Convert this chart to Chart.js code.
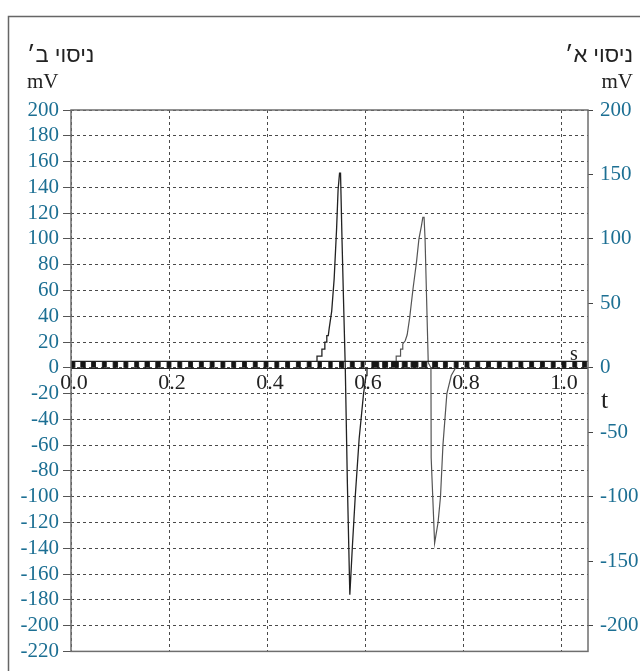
<!DOCTYPE html>
<html><head><meta charset="utf-8">
<script src="https://cdn.jsdelivr.net/npm/chart.js@4.4.1/dist/chart.umd.min.js"></script>
<style>html,body{margin:0;padding:0;background:#fff;}canvas{display:block;}</style>
</head><body>
<canvas id="c" width="640" height="671"></canvas>
<script>
// ---- data ----
const xTicks = [0.0, 0.2, 0.4, 0.6, 0.8, 1.0];
const xTickLabels = ['0.0', '0.2', '0.4', '0.6', '0.8', '1.0'];
const leftTicks = [-220, -200, -180, -160, -140, -120, -100, -80, -60, -40, -20, 0, 20, 40, 60, 80, 100, 120, 140, 160, 180, 200];
const rightTicks = [-200, -150, -100, -50, 0, 50, 100, 150, 200];
const titleLeft = 'ניסוי ב׳';
const titleRight = 'ניסוי א׳';
const unitY = 'mV';
const unitX = 's';
const axisX = 't';

// first pulse (seconds, mV)
const pulseA_t = [0.502, 0.502, 0.512, 0.512, 0.518, 0.518, 0.522, 0.522, 0.525, 0.527, 0.532, 0.537, 0.542, 0.545, 0.548, 0.550, 0.553, 0.556, 0.5597, 0.564, 0.569, 0.574, 0.580, 0.588, 0.597, 0.602, 0.604];
const pulseA_v = [5, 9, 9, 14.5, 14.5, 20, 20, 25, 25, 31, 44, 69, 108, 138, 151, 151, 100, 54, 0, -90, -176, -140, -100, -55, -20, -6, 0];
// second pulse
const pulseB_t = [0.6636, 0.6636, 0.6725, 0.6725, 0.677, 0.677, 0.682, 0.686, 0.691, 0.698, 0.705, 0.710, 0.715, 0.718, 0.7205, 0.7225, 0.729, 0.7345, 0.735, 0.742, 0.749, 0.754, 0.759, 0.767, 0.776, 0.785, 0.790];
const pulseB_v = [5, 9, 9, 14.5, 14.5, 18.5, 21, 25.6, 38.5, 61.5, 82, 100, 110, 116.7, 116.7, 100, 4, 0, -70, -136, -120, -100, -60, -20, -6, 0];
// noise band along zero: black cells (start, end in s), band height in mV
const bandHeight = 5;
const cellStart = [0.000, 0.020, 0.042, 0.064, 0.086, 0.108, 0.130, 0.151, 0.173, 0.196, 0.218, 0.240, 0.262, 0.284, 0.306, 0.328, 0.350, 0.372, 0.394, 0.416, 0.438, 0.460, 0.482, 0.504, 0.526, 0.548, 0.570, 0.592, 0.614, 0.636, 0.654, 0.676, 0.694, 0.716, 0.738, 0.760, 0.782, 0.804, 0.826, 0.848, 0.870, 0.892, 0.914, 0.936, 0.958, 0.980, 1.002, 1.024, 1.044];
const cellEnd   = [0.008, 0.029, 0.050, 0.072, 0.095, 0.116, 0.138, 0.160, 0.182, 0.204, 0.226, 0.248, 0.270, 0.292, 0.314, 0.336, 0.358, 0.380, 0.402, 0.424, 0.446, 0.468, 0.490, 0.511, 0.533, 0.556, 0.578, 0.598, 0.628, 0.646, 0.668, 0.686, 0.708, 0.726, 0.748, 0.768, 0.790, 0.812, 0.834, 0.856, 0.878, 0.900, 0.922, 0.944, 0.966, 0.988, 1.010, 1.032, 1.052];
const xMin = 0, xMax = 1.055, yMin = -220, yMax = 200;

// ---- build datasets ----
const pts = (ts, vs) => ts.map((t, i) => ({x: t, y: vs[i]}));
const cellPts = [];
cellStart.forEach((s, i) => {
  cellPts.push({x: s, y: 0}, {x: s, y: bandHeight}, {x: cellEnd[i], y: bandHeight}, {x: cellEnd[i], y: 0});
});
const cellEdgePts = [];
cellStart.forEach((s, i) => {
  cellEdgePts.push({x: s, y: 0}, {x: s, y: bandHeight}, {x: null, y: null}, {x: cellEnd[i], y: 0}, {x: cellEnd[i], y: bandHeight}, {x: null, y: null});
});

const SERIF = '"Liberation Serif", "DejaVu Serif", serif';
const SANS = '"Liberation Sans", "DejaVu Sans", "Noto Sans", sans-serif';
const TEAL = '#1c6f93';
const GRID = '#4a4a4a';
const BORDER = '#6e6e6e';

const decor = {
  id: 'decor',
  beforeDraw(chart) {
    const c = chart.ctx;
    c.save();
    c.fillStyle = '#fff';
    c.fillRect(0, 0, chart.width, chart.height);
    c.strokeStyle = '#666';
    c.lineWidth = 1.5;
    c.beginPath();
    c.moveTo(8.5, chart.height + 2);
    c.lineTo(8.5, 16.5);
    c.lineTo(chart.width + 2, 16.5);
    c.stroke();
    c.restore();
  },
  beforeDatasetsDraw(chart) {
    const c = chart.ctx, a = chart.chartArea, ys = chart.scales.y;
    c.save();
    const y0 = Math.round(ys.getPixelForValue(0)) + 0.5;
    c.strokeStyle = '#222';
    c.lineWidth = 1.2;
    c.beginPath(); c.moveTo(a.left, y0); c.lineTo(a.right, y0); c.stroke();
    c.restore();
  },
  afterDraw(chart) {
    const c = chart.ctx, a = chart.chartArea, ys = chart.scales.y;
    c.save();
    c.strokeStyle = BORDER;
    c.lineWidth = 1.5;
    c.strokeRect(a.left, a.top, a.right - a.left, a.bottom - a.top);
    c.fillStyle = '#222';
    c.font = '22px ' + SANS;
    c.direction = 'rtl';
    c.textBaseline = 'alphabetic';
    c.textAlign = 'left';
    c.fillText(titleLeft, 27, 62);
    c.textAlign = 'right';
    c.fillText(titleRight, 633, 62);
    c.direction = 'ltr';
    c.font = '21px ' + SERIF;
    c.textAlign = 'left';
    c.fillText(unitY, 27, 88);
    c.textAlign = 'right';
    c.fillText(unitY, 633, 88);
    c.textAlign = 'left';
    c.font = '20px ' + SERIF;
    c.fillText(unitX, 570, ys.getPixelForValue(0) - 8);
    c.font = '26px ' + SERIF;
    c.fillText(axisX, 601, ys.getPixelForValue(0) + 40);
    c.restore();
  }
};

new Chart(document.getElementById('c'), {
  type: 'line',
  data: {
    datasets: [
      {data: cellPts, fill: 'origin', backgroundColor: '#151515', borderWidth: 0, pointRadius: 0, tension: 0, yAxisID: 'y'},
      {data: cellEdgePts, borderColor: '#333', borderWidth: 1, pointRadius: 0, spanGaps: false, yAxisID: 'y'},
      {data: [{x: xMin, y: bandHeight}, {x: xMax, y: bandHeight}], borderColor: '#222', borderWidth: 1.2, pointRadius: 0, yAxisID: 'y'},
      {data: pts(pulseA_t, pulseA_v), borderColor: '#222', borderWidth: 1.3, pointRadius: 0, tension: 0, yAxisID: 'y'},
      {data: pts(pulseB_t, pulseB_v), borderColor: '#555', borderWidth: 1.2, pointRadius: 0, tension: 0, yAxisID: 'y'}
    ]
  },
  options: {
    responsive: false,
    animation: false,
    events: [],
    layout: {padding: {left: 0, right: 0, top: 110, bottom: 15}},
    plugins: {legend: {display: false}, tooltip: {enabled: false}},
    scales: {
      x: {
        type: 'linear', position: {y: 0}, min: xMin, max: xMax,
        afterBuildTicks: s => { s.ticks = xTicks.map(v => ({value: v})); },
        ticks: {autoSkip: false, maxRotation: 0, padding: 2, labelOffset: 3, color: '#222', font: {family: SERIF, size: 22},
          callback: (v) => xTickLabels[xTicks.indexOf(v)]},
        grid: {color: GRID, drawTicks: false, lineWidth: 1},
        border: {display: false, dash: [3, 3]}
      },
      y: {
        type: 'linear', position: 'left', min: yMin, max: yMax,
        afterBuildTicks: s => { s.ticks = leftTicks.map(v => ({value: v})); },
        afterFit: s => { s.width = 71; },
        ticks: {padding: 4, color: TEAL, font: {family: SERIF, size: 21}, autoSkip: false},
        grid: {color: GRID, tickBorderDash: [], tickLength: 8, tickColor: '#555', lineWidth: 1},
        border: {display: false, dash: [3, 3]}
      },
      y2: {
        type: 'linear', position: 'right', min: yMin, max: yMax,
        afterBuildTicks: s => { s.ticks = rightTicks.map(v => ({value: v})); },
        afterFit: s => { s.width = 52; },
        ticks: {padding: 7, color: TEAL, font: {family: SERIF, size: 21}, autoSkip: false},
        grid: {drawOnChartArea: false, tickLength: 5, tickColor: '#444', lineWidth: 1},
        border: {display: false}
      }
    }
  },
  plugins: [decor]
});
</script>
</body></html>
